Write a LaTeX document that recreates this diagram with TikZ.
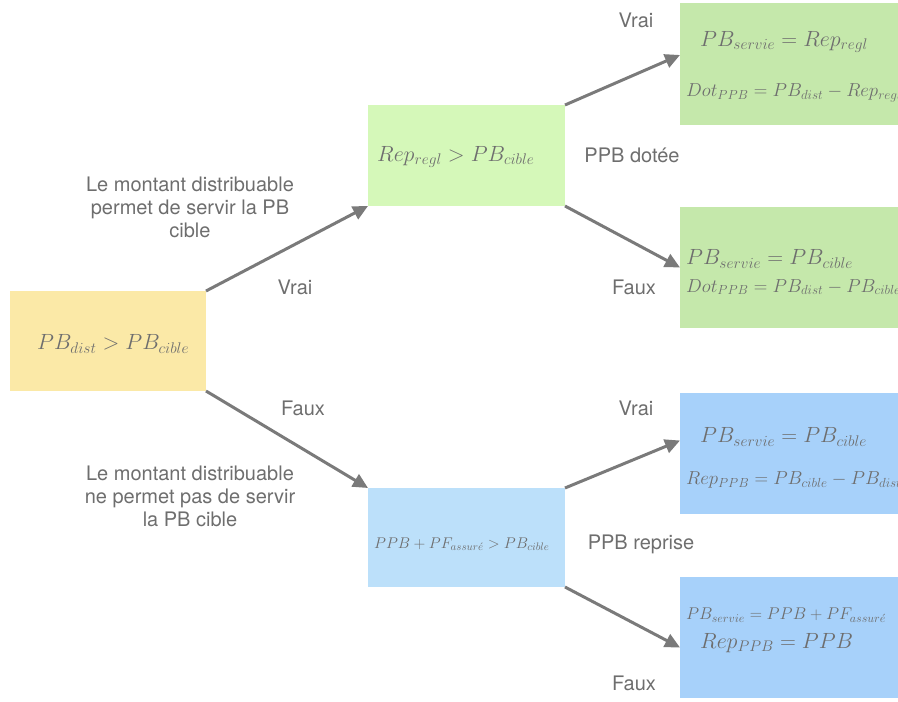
\RequirePackage{fix-cm}
\documentclass[tikz,border=0pt]{standalone}
\usepackage{fontspec}
\setsansfont{TeX Gyre Heros}
\usetikzlibrary{arrows.meta,calc}

\definecolor{boxyellow}{HTML}{FBE9A7}
\definecolor{greenmid}{HTML}{D5F8B9}
\definecolor{greenright}{HTML}{C5E8AB}
\definecolor{bluemid}{HTML}{BCE0FA}
\definecolor{blueright}{HTML}{A7D1FA}
\definecolor{linkgray}{HTML}{7A7A7A}
\definecolor{mathgray}{HTML}{6E6E6E}
\definecolor{labelgray}{HTML}{6E6E6E}

\begin{document}
\begin{tikzpicture}[x=1pt,y=-1pt,
  cell/.style={rectangle,inner sep=0pt,outer sep=0pt,anchor=north west},
  formula/.style={inner sep=0pt,text=mathgray,anchor=west,font=\fontsize{22}{26}\selectfont},
  lineformula/.style={formula,font=\fontsize{18.8}{22}\selectfont},
  smallformula/.style={formula,font=\fontsize{17}{20}\selectfont},
  caption/.style={inner sep=0pt,text=labelgray,font=\sffamily\fontsize{20}{23}\selectfont,align=center},
  link/.style={draw=linkgray,line width=3pt,-{Triangle[length=15pt,width=14pt]}}]

\useasboundingbox (0,0) rectangle (898,702);

% decision boxes
\node[cell,fill=boxyellow,minimum width=196pt,minimum height=100pt] (root) at (10,291) {};
\node[cell,fill=greenmid,minimum width=197pt,minimum height=101pt] (yes) at (368,105) {};
\node[cell,fill=bluemid,minimum width=197pt,minimum height=99pt] (no) at (368,488) {};

% outcome boxes
\node[cell,fill=greenright,minimum width=230pt,minimum height=122pt] (yy) at (680,3) {};
\node[cell,fill=greenright,minimum width=230pt,minimum height=121pt] (yn) at (680,207) {};
\node[cell,fill=blueright,minimum width=230pt,minimum height=121pt] (ny) at (680,393) {};
\node[cell,fill=blueright,minimum width=230pt,minimum height=121pt] (nn) at (680,577) {};

% conditions
\node[formula] (rootf) at (37,344) {$PB_{dist} > PB_{cible}$};
\node[formula] (yesf) at (377,157) {$Rep_{regl} > PB_{cible}$};
\node[formula,font=\fontsize{15.5}{18}\selectfont] (nof) at (374,544) {$PPB + PF_{assur\acute{e}} > PB_{cible}$};

% results
\node[formula] (yy1) at (700,42) {$PB_{servie} = Rep_{regl}$};
\node[lineformula] (yy2) at (686,93) {$Dot_{PPB} = PB_{dist} - Rep_{regl}$};
\node[formula] (yn1) at (686,259) {$PB_{servie} = PB_{cible}$};
\node[lineformula] (yn2) at (686,287) {$Dot_{PPB} = PB_{dist} - PB_{cible}$};
\node[formula] (ny1) at (700,437) {$PB_{servie} = PB_{cible}$};
\node[lineformula] (ny2) at (686,480) {$Rep_{PPB} = PB_{cible} - PB_{dist}$};
\node[smallformula] (nn1) at (686,615) {$PB_{servie} = PPB + PF_{assur\acute{e}}$};
\node[formula] (nn2) at (700,643) {$Rep_{PPB} = PPB$};

% connectors
\draw[link] (root.north east) -- (yes.south west);
\draw[link] (root.south east) -- (no.north west);
\draw[link] (yes.north east) -- ($(yy.west)+(0,-9)$);
\draw[link] (yes.south east) -- (yn.west);
\draw[link] (no.north east) -- ($(ny.west)+(0,-13)$);
\draw[link] (no.south east) -- ($(nn.west)+(0,10)$);

% captions
\node[caption] (c1) at (190,207) {Le montant distribuable\\permet de servir la PB\\cible};
\node[caption] (c2) at (190,496) {Le montant distribuable\\ne permet pas de servir\\la PB cible};
\node[caption] (v1) at (295,287) {Vrai};
\node[caption] (f1) at (303,408) {Faux};
\node[caption] (v2) at (636,20) {Vrai};
\node[caption] (d1) at (632,155) {PPB dotée};
\node[caption] (f2) at (634,287) {Faux};
\node[caption] (v3) at (636,408) {Vrai};
\node[caption] (r1) at (641,544) {PPB reprise};
\node[caption] (f3) at (634,683) {Faux};
\end{tikzpicture}
\end{document}
